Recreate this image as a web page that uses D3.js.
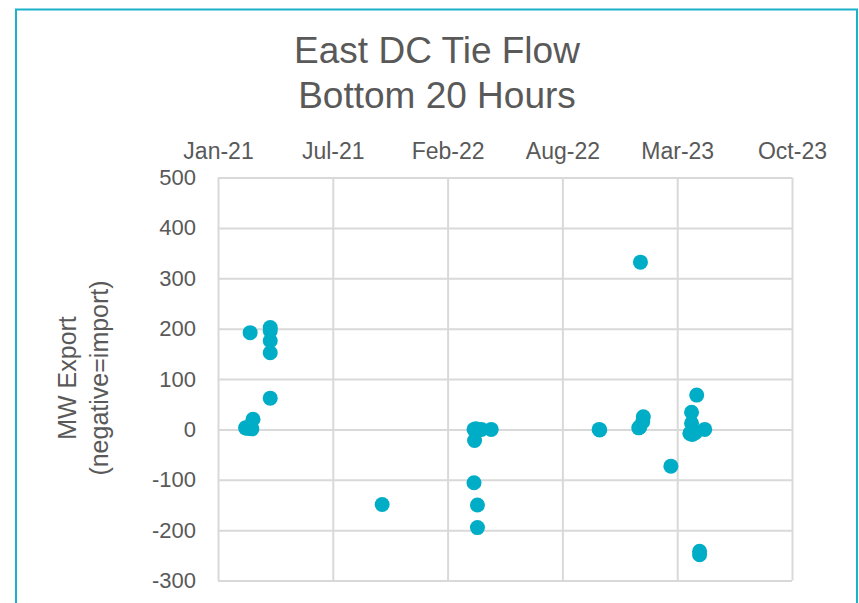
<!DOCTYPE html>
<html>
<head>
<meta charset="utf-8">
<script src="https://cdn.jsdelivr.net/npm/d3@7"></script>
<style>
  html, body { margin: 0; padding: 0; background: #fff; }
  svg { display: block; font-family: "Liberation Sans", Arial, sans-serif; }
</style>
</head>
<body>
<svg id="chart" width="859" height="603"></svg>
<script>
// ---- data ----
const titleLines = ["East DC Tie Flow", "Bottom 20 Hours"];
const yTitleLines = ["MW Export", "(negative=import)"];
const xTickDates = ["2021-01-06", "2021-07-25", "2022-02-10", "2022-08-29", "2023-03-17", "2023-10-03"];
const yTickValues = [-300, -200, -100, 0, 100, 200, 300, 400, 500];
const pointDates = [
  "2021-02-23", "2021-02-26", "2021-02-28", "2021-03-03", "2021-03-06", "2021-03-08", "2021-03-03",
  "2021-04-07", "2021-04-07", "2021-04-07", "2021-04-07", "2021-04-07",
  "2021-10-19",
  "2022-03-28", "2022-03-29", "2022-03-31", "2022-04-02", "2022-04-03", "2022-04-06", "2022-04-10", "2022-04-27",
  "2022-03-28", "2022-04-03", "2022-04-03",
  "2022-11-01", "2022-11-02",
  "2023-01-09", "2023-01-11", "2023-01-16", "2023-01-17", "2023-01-12",
  "2023-03-06",
  "2023-04-11", "2023-04-11", "2023-04-08", "2023-04-12", "2023-04-15", "2023-04-18", "2023-05-04", "2023-04-20",
  "2023-04-25", "2023-04-25"
];
const pointValues = [
  3, 2, 4, 2, 1, 20, 192,
  202, 196, 176, 152, 62,
  -149,
  0, -22, 1, 0, -2, 0, 0, 0,
  -106, -150, -195,
  0, -1,
  3, 5, 15, 25, 332,
  -73,
  34, 12, -8, -10, -8, -6, 0, 68,
  -242, -249
];

// ---- drawing ----
const svg = d3.select("#chart");
const parse = d3.timeParse("%Y-%m-%d");
const textColor = "#595959";
const gridColor = "#d9d9d9";
const markColor = "#00adc6";
const fontFam = "'Liberation Sans', Arial, sans-serif";

const plot = { left: 218, right: 792, top: 177.5, bottom: 580.5 };

const tickDates = xTickDates.map(parse);
const x = d3.scaleTime()
  .domain([tickDates[0], tickDates[tickDates.length - 1]])
  .range([plot.left, plot.right]);
const y = d3.scaleLinear()
  .domain([d3.min(yTickValues), d3.max(yTickValues)])
  .range([plot.bottom, plot.top]);

// outer border
svg.append("rect")
  .attr("x", 16).attr("y", 9.5)
  .attr("width", 841).attr("height", 620)
  .attr("fill", "none")
  .attr("stroke", "#1ab2ca").attr("stroke-width", 2);

// title
svg.append("g").selectAll("text").data(titleLines).join("text")
  .attr("x", 437).attr("y", (d, i) => 63 + i * 45)
  .attr("text-anchor", "middle")
  .attr("font-size", 37)
  .attr("fill", textColor)
  .text(d => d);

// gridlines
const yGrid = d3.axisLeft(y).tickValues(yTickValues).tickSize(-(plot.right - plot.left)).tickFormat("");
svg.append("g").attr("transform", `translate(${plot.left},0)`).call(yGrid)
  .call(g => g.select(".domain").remove())
  .call(g => g.selectAll("line").attr("stroke", gridColor).attr("stroke-width", 2));

const xGrid = d3.axisTop(x).tickValues(tickDates).tickSize(-(plot.bottom - plot.top)).tickFormat("");
svg.append("g").attr("transform", `translate(0,${plot.top})`).call(xGrid)
  .call(g => g.select(".domain").remove())
  .call(g => g.selectAll("line").attr("stroke", gridColor).attr("stroke-width", 2));

// y tick labels (ASCII hyphen for negatives)
const yAxis = d3.axisLeft(y).tickValues(yTickValues).tickSize(0).tickPadding(22)
  .tickFormat(d => String(d));
svg.append("g").attr("transform", `translate(${plot.left},0)`).call(yAxis)
  .call(g => g.select(".domain").remove())
  .call(g => g.selectAll("text").attr("font-size", 22).attr("fill", textColor)
    .attr("font-family", fontFam));

// x tick labels (top)
const xAxis = d3.axisTop(x).tickValues(tickDates).tickSize(0).tickPadding(19).tickFormat(d3.timeFormat("%b-%y"));
svg.append("g").attr("transform", `translate(0,${plot.top})`).call(xAxis)
  .call(g => g.select(".domain").remove())
  .call(g => g.selectAll("text").attr("font-size", 23).attr("fill", textColor)
    .attr("font-family", fontFam));

// y axis title
svg.append("g").attr("transform", `translate(84,${(plot.top + plot.bottom) / 2 - 1}) rotate(-90)`)
  .selectAll("text").data(yTitleLines).join("text")
  .attr("x", 0).attr("y", (d, i) => -8 + i * 32)
  .attr("text-anchor", "middle")
  .attr("font-size", 25)
  .attr("fill", textColor)
  .text(d => d);

// points
const points = pointDates.map((d, i) => ({ date: parse(d), value: pointValues[i] }));
svg.append("g").selectAll("circle").data(points).join("circle")
  .attr("cx", d => x(d.date))
  .attr("cy", d => y(d.value))
  .attr("r", 7.5)
  .attr("fill", markColor);
</script>
</body>
</html>
